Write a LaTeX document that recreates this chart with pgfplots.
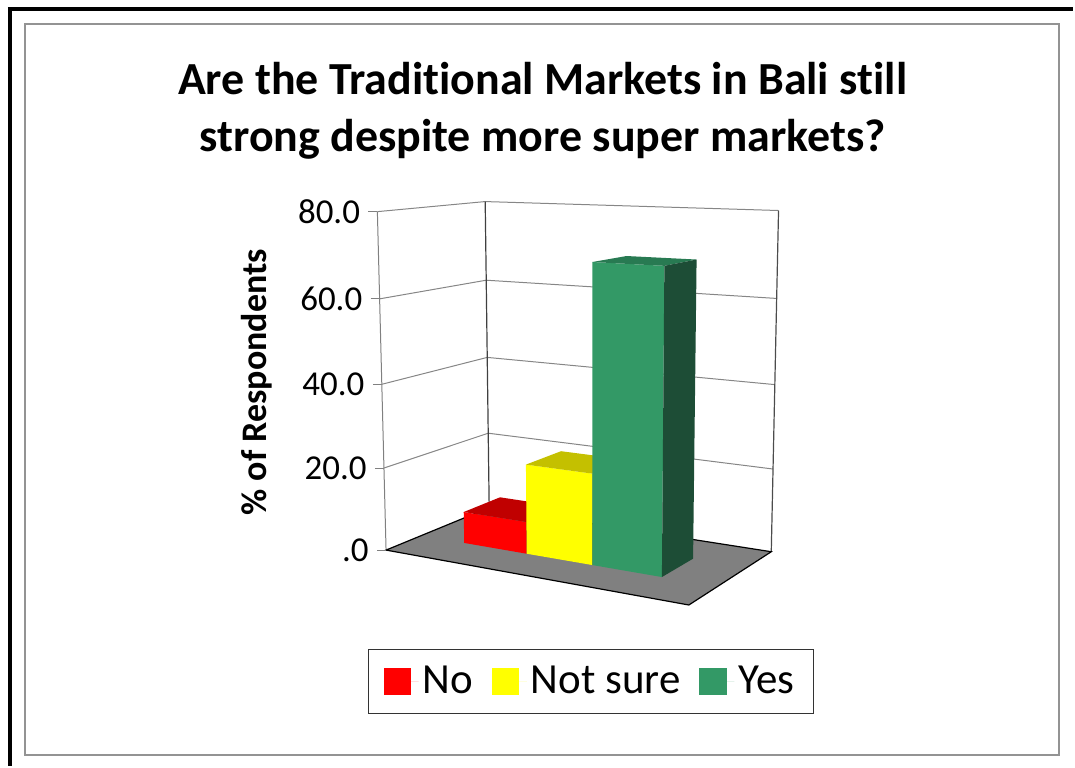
\documentclass[border=0pt]{standalone}
\usepackage{fontspec}
\setmainfont{Carlito}[Ligatures=NoCommon]
\usepackage{pgfplots}
\pgfplotsset{compat=1.18}
\usepackage{pgfplotstable}

\definecolor{nored}{RGB}{255,0,0}
\definecolor{noredtop}{RGB}{192,0,0}
\definecolor{noredside}{RGB}{150,0,0}
\definecolor{nsyel}{RGB}{255,255,0}
\definecolor{nsyeltop}{RGB}{196,192,0}
\definecolor{nsyelside}{RGB}{150,150,0}
\definecolor{yesgrn}{RGB}{51,153,102}
\definecolor{yesgrntop}{RGB}{40,122,82}
\definecolor{yesgrnside}{RGB}{29,77,54}
\definecolor{floorgray}{RGB}{128,128,128}
\definecolor{gridgray}{RGB}{134,134,134}

% values (% of respondents)
\pgfplotstableread{
series value
No 7.7
NotSure 21.5
Yes 69.5
}\bardata
\pgfplotstablegetelem{0}{value}\of\bardata \let\valNo\pgfplotsretval
\pgfplotstablegetelem{1}{value}\of\bardata \let\valNS\pgfplotsretval
\pgfplotstablegetelem{2}{value}\of\bardata \let\valYes\pgfplotsretval

% unit faces of a bar (u: left/right, v: front/back, h: bottom/top)
\pgfplotstableread{
u v h
0 0 0
1 0 0
1 0 1
0 0 1
}\faceFront
\pgfplotstableread{
u v h
0 0 1
1 0 1
1 1 1
0 1 1
}\faceTop
\pgfplotstableread{
u v h
1 0 0
1 1 0
1 1 1
1 0 1
}\faceRight
\pgfplotstableread{
u v
0 0
1 0
1 1
0 1
}\floortab
\pgfplotstableread{
u v
0 0
0 1
1 1
}\gridpath
\pgfplotstableread{
h k
0 0
80 0
}\vertpath
\pgfplotstableread{
d k
-9 0
0 0
}\tickpath
\pgfplotstableread{
w label
0 .0
20 20.0
40 40.0
60 60.0
80 80.0
}\ticktab

\def\bw{0.22333}
\def\vf{0.32}
\def\vd{0.36}

\newcommand{\drawbar}[6]{%
  \addplot[fill=#3, draw=none] table[
    x expr={PX(#1+\thisrow{u}*\bw,\vf+\thisrow{v}*\vd,\thisrow{h}*#2)},
    y expr={PY(#1+\thisrow{u}*\bw,\vf+\thisrow{v}*\vd,\thisrow{h}*#2)}]{\faceFront} -- cycle;
  \addlegendentry{#6}
  \addplot[forget plot, fill=#4, draw=none] table[
    x expr={PX(#1+\thisrow{u}*\bw,\vf+\thisrow{v}*\vd,\thisrow{h}*#2)},
    y expr={PY(#1+\thisrow{u}*\bw,\vf+\thisrow{v}*\vd,\thisrow{h}*#2)}]{\faceTop} -- cycle;
  \addplot[forget plot, fill=#5, draw=none] table[
    x expr={PX(#1+\thisrow{u}*\bw,\vf+\thisrow{v}*\vd,\thisrow{h}*#2)},
    y expr={PY(#1+\thisrow{u}*\bw,\vf+\thisrow{v}*\vd,\thisrow{h}*#2)}]{\faceRight} -- cycle;
}

\begin{document}
\begin{tikzpicture}[declare function={
  pden(\uu,\vv,\ww)=1-0.115*\uu+0.107*\vv-0.000495*\ww;
  PX(\uu,\vv,\ww)=(223.95*\uu+155.73*\vv-0.29588*\ww+386.7)/pden(\uu,\vv,\ww);
  PY(\uu,\vv,\ww)=(-14.69*\uu+11.91*\vv-4.3425*\ww+551)/pden(\uu,\vv,\ww);
}]
\begin{axis}[
  x=0.5bp, y=0.5bp, y dir=reverse,
  xmin=0, xmax=1075, ymin=0, ymax=767,
  hide axis, clip=false,
  legend columns=3,
  legend image code/.code={\fill[#1] (0bp,-6.8bp) rectangle (13.6bp,6.8bp); \path (0bp,0bp) -- (17.5bp,0bp);},
  legend style={at={(axis cs:592,682.5)}, anchor=center,
    draw=black!80, line width=0.6bp, fill=white,
    inner xsep=7.5bp, inner ysep=6.5bp,
    font=\fontsize{21.5bp}{25bp}\selectfont,
    /tikz/every even column/.append style={column sep=7.5bp}},
]
% bounding box / frame
\path (axis cs:0,0) rectangle (axis cs:1075,767);
\draw[line width=1.8bp] (axis cs:8,9) -- (axis cs:1075,9);
\draw[line width=2bp] (axis cs:10,7.2) -- (axis cs:10,767);
\draw[gray!85, line width=0.8bp] (axis cs:25,24) rectangle (axis cs:1061,756);

% title and axis label
\node[anchor=base, font=\bfseries\fontsize{23bp}{27bp}\selectfont] at (axis cs:543.5,95) {Are the Traditional Markets in Bali still};
\node[anchor=base, font=\bfseries\fontsize{23bp}{27bp}\selectfont] at (axis cs:543.5,152) {strong despite more super markets?};
\node[anchor=base, rotate=90, font=\bfseries\fontsize{18bp}{21bp}\selectfont] at (axis cs:267,383) {\% of Respondents};

% walls: gridlines
\pgfplotsinvokeforeach{20,40,60,80}{
  \addplot[forget plot, gridgray, line width=0.5bp] table[
    x expr={PX(\thisrow{u},\thisrow{v},#1)},
    y expr={PY(\thisrow{u},\thisrow{v},#1)}]{\gridpath};
}
% wall vertical edges
\addplot[forget plot, gray, line width=0.5bp] table[x expr={PX(0,0,\thisrow{h})}, y expr={PY(0,0,\thisrow{h})}]{\vertpath};
\addplot[forget plot, black!75, line width=0.6bp] table[x expr={PX(0,1,\thisrow{h})}, y expr={PY(0,1,\thisrow{h})}]{\vertpath};
\addplot[forget plot, black!70, line width=0.6bp] table[x expr={PX(1,1,\thisrow{h})}, y expr={PY(1,1,\thisrow{h})}]{\vertpath};
% floor
\addplot[forget plot, fill=floorgray, draw=black, line width=0.6bp] table[
  x expr={PX(\thisrow{u},\thisrow{v},0)}, y expr={PY(\thisrow{u},\thisrow{v},0)}]{\floortab} -- cycle;
% tick marks
\pgfplotsinvokeforeach{0,20,40,60,80}{
  \addplot[forget plot, gray, line width=0.5bp] table[
    x expr={PX(0,0,#1)+\thisrow{d}}, y expr={PY(0,0,#1)}]{\tickpath};
}
% tick labels
\addplot[forget plot, only marks, mark size=0pt, point meta=explicit symbolic,
  nodes near coords,
  every node near coord/.append style={anchor=east, inner sep=0pt, font=\fontsize{17.5bp}{20bp}\selectfont}]
  table[x expr={PX(0,0,\thisrow{w})-17}, y expr={PY(0,0,\thisrow{w})}, meta=label]{\ticktab};

% bars
\drawbar{0.16}{\valNo}{nored}{noredtop}{noredside}{No}
\drawbar{0.38333}{\valNS}{nsyel}{nsyeltop}{nsyelside}{Not sure}
\drawbar{0.60667}{\valYes}{yesgrn}{yesgrntop}{yesgrnside}{Yes}
\end{axis}
\end{tikzpicture}
\end{document}
